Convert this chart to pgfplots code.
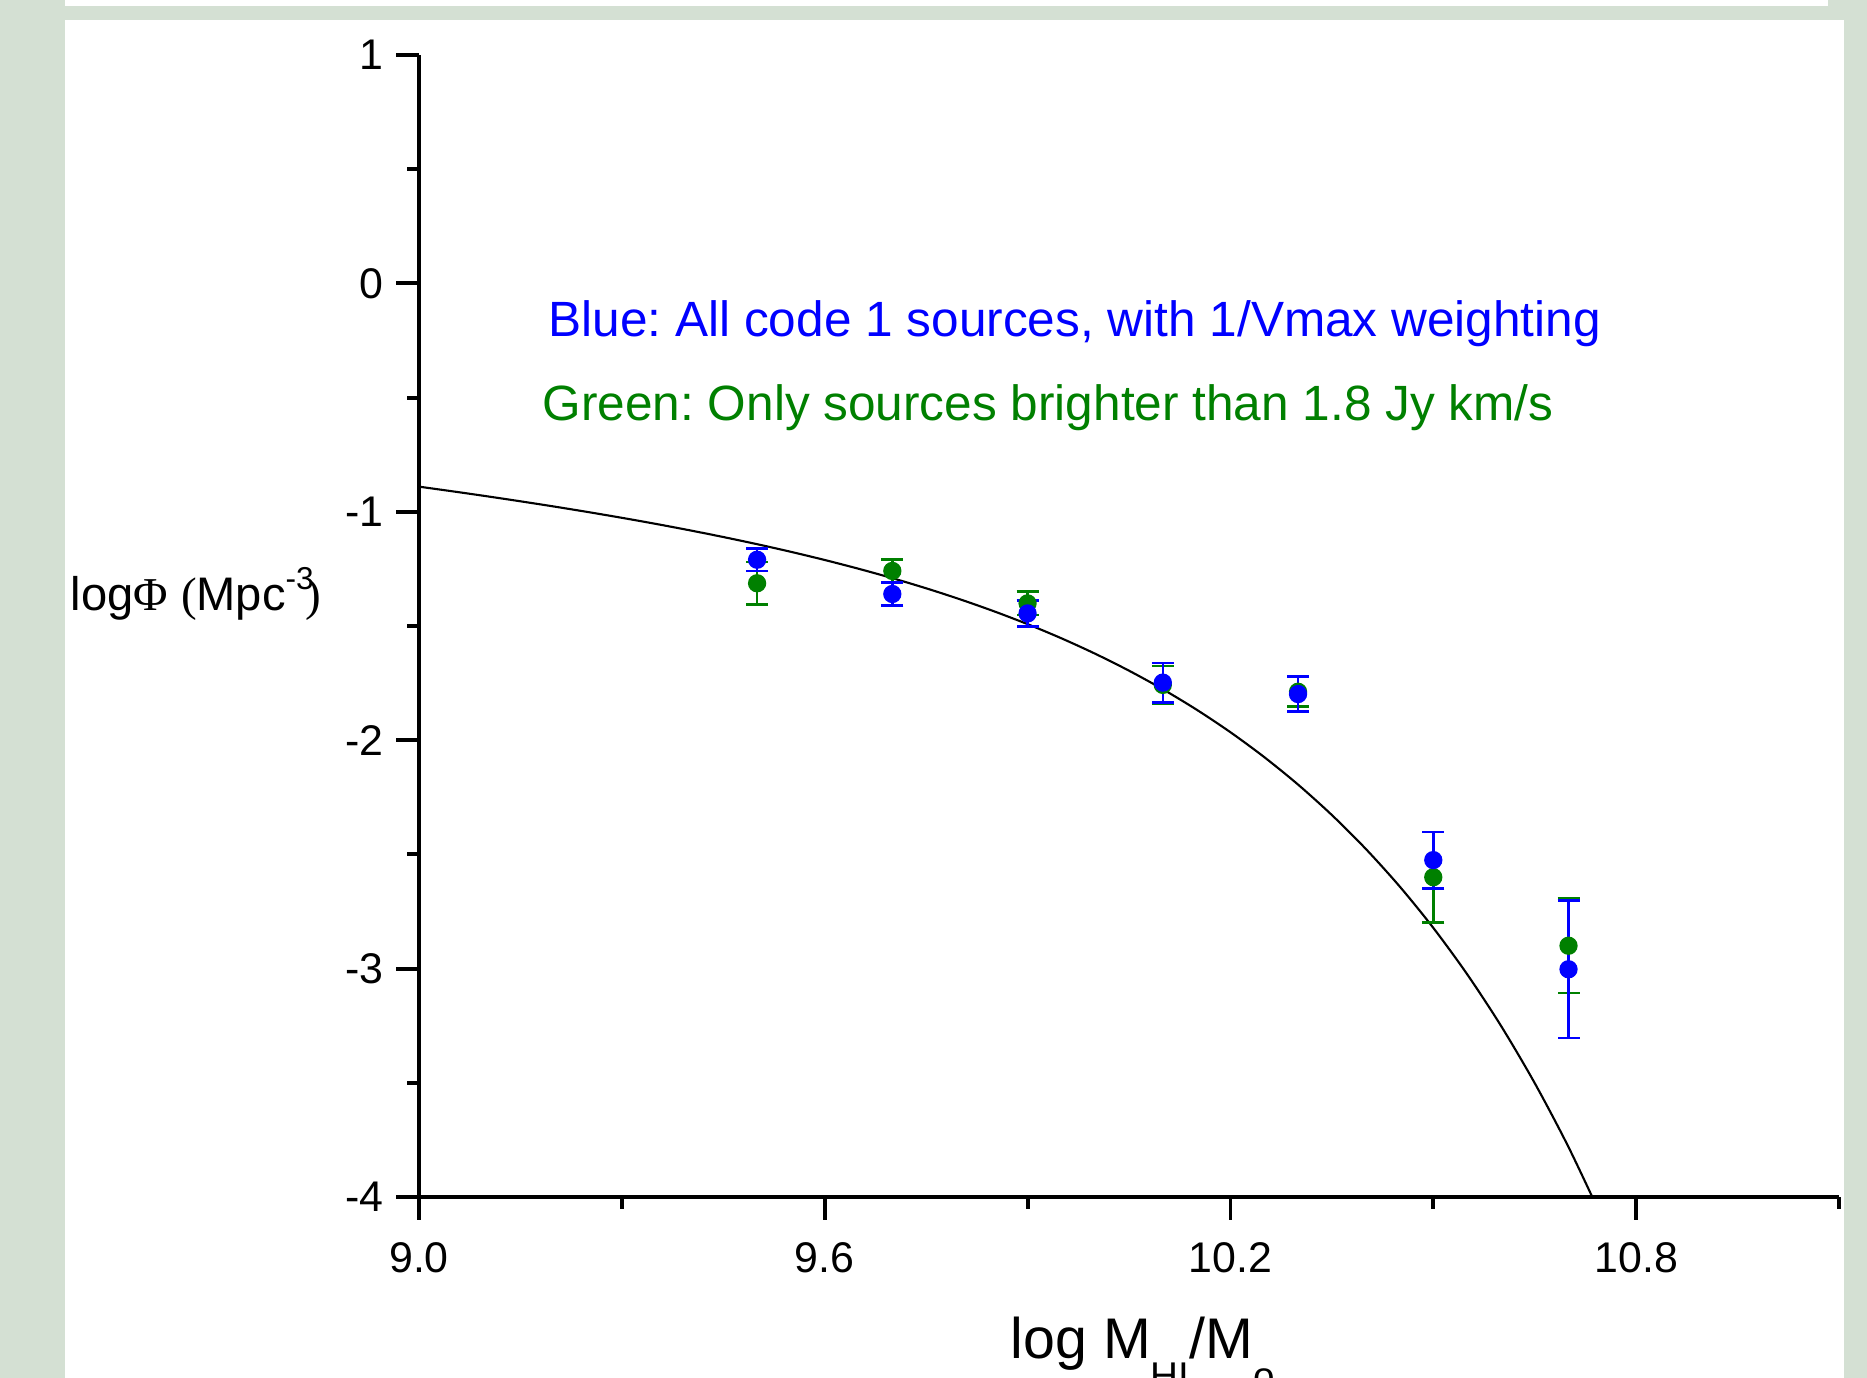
\documentclass[border=0pt]{standalone}
\usepackage{fontspec}
\setmainfont{Liberation Sans}
\newfontfamily\serif{Liberation Serif}
\usepackage{pgfplots}
\pgfplotsset{compat=1.18}
\definecolor{bgsage}{RGB}{212,224,211}
\definecolor{dblue}{RGB}{0,0,255}
\definecolor{dgreen}{RGB}{0,128,0}
\frenchspacing

\begin{document}
\begin{tikzpicture}
% page background and panels
\fill[bgsage] (0,0) rectangle (18.67,13.78);
\fill[white] (0.65,13.72) rectangle (18.28,13.78);
\fill[white] (0.65,0) rectangle (18.44,13.58);
\useasboundingbox (0,0) rectangle (18.67,13.78);

\begin{axis}[
    at={(4.19cm,1.81cm)}, anchor=south west,
    scale only axis, width=14.2cm, height=11.42cm,
    xmin=9, xmax=11.1, ymin=-4, ymax=1,
    axis x line=bottom, axis y line=left,
    axis line style={-, line width=1.1pt, black},
    xtick={9,9.6,10.2,10.8}, xticklabels={9.0,9.6,10.2,10.8},
    minor xtick={9.3,9.9,10.5,11.1},
    ytick={-4,-3,-2,-1,0,1}, yticklabels={-4,-3,-2,-1,0,1},
    minor ytick={-3.5,-2.5,-1.5,-0.5,0.5},
    tick align=outside,
    major tick length=0.23cm, minor tick length=0.12cm,
    every tick/.style={black, line width=1.1pt},
    tick label style={font=\fontsize{12.2}{14}\selectfont},
    xticklabel style={yshift=-0.1cm},
]

% fitted curve
\addplot[black, line width=0.6pt, smooth] coordinates {
(9.00,-0.8900) (9.05,-0.9106) (9.10,-0.9319) (9.15,-0.9541) (9.20,-0.9771)
(9.25,-1.0012) (9.30,-1.0264) (9.35,-1.0529) (9.40,-1.0809) (9.45,-1.1105)
(9.50,-1.1419) (9.55,-1.1753) (9.60,-1.2111) (9.65,-1.2494) (9.70,-1.2906)
(9.75,-1.3350) (9.80,-1.3831) (9.85,-1.4353) (9.90,-1.4920) (9.95,-1.5539)
(10.00,-1.6216) (10.05,-1.6957) (10.10,-1.7770) (10.15,-1.8665) (10.20,-1.9652)
(10.25,-2.0741) (10.30,-2.1944) (10.35,-2.3277) (10.40,-2.4755) (10.45,-2.6395)
(10.50,-2.8217) (10.55,-3.0244) (10.60,-3.2500) (10.65,-3.5014) (10.70,-3.7816)
(10.75,-4.0942)
};

% green: only sources brighter than 1.8 Jy km/s
\addplot[only marks, mark=*, mark size=2.4pt, color=dgreen,
    mark options={draw=dgreen, fill=dgreen},
    error bars/.cd, y dir=both, y explicit,
    error bar style={line width=0.7pt, dgreen},
    error mark options={rotate=90, line width=0.7pt, mark size=0.11cm, dgreen}]
coordinates {
(9.5,-1.313) +- (0,0.093)
(9.7,-1.259) +- (0,0.050)
(9.9,-1.401) +- (0,0.052)
(10.1,-1.758) +- (0,0.082)
(10.3,-1.788) +- (0,0.065)
(10.5,-2.600) +- (0,0.199)
(10.7,-2.900) +- (0,0.208)
};

% blue: all code 1 sources, 1/Vmax weighting
\addplot[only marks, mark=*, mark size=2.4pt, color=dblue,
    mark options={draw=dblue, fill=dblue},
    error bars/.cd, y dir=both, y explicit,
    error bar style={line width=0.7pt, dblue},
    error mark options={rotate=90, line width=0.7pt, mark size=0.11cm, dblue}]
coordinates {
(9.5,-1.210) +- (0,0.050)
(9.7,-1.360) +- (0,0.050)
(9.9,-1.445) +- (0,0.057)
(10.1,-1.748) +- (0,0.087)
(10.3,-1.798) +- (0,0.076)
(10.5,-2.525) +- (0,0.124)
(10.7,-3.003) +- (0,0.302)
};
\end{axis}

\node[anchor=base west, inner sep=0, text=dblue, font=\fontsize{14.1}{17}\selectfont]
  at (5.48,10.41) {Blue: All code 1 sources, with 1/Vmax weighting};
\node[anchor=base west, inner sep=0, text=dgreen, font=\fontsize{14.1}{17}\selectfont]
  at (5.42,9.57) {Green: Only sources brighter than 1.8 Jy km/s};

\node[anchor=base west, inner sep=0, font=\fontsize{13.4}{16}\selectfont]
  at (0.70,7.67) {log{\serif Φ} {\serif(}Mpc\raisebox{6pt}{\fontsize{9}{10}\selectfont -3}\kern-2.3pt{\serif)}};

\node[anchor=base west, inner sep=0, font=\fontsize{16.3}{19}\selectfont]
  at (10.10,0.19) {log M\raisebox{-8.8pt}{\fontsize{11}{12}\selectfont HI}/M\raisebox{-8.8pt}{\fontsize{11}{12}\selectfont o}};
\end{tikzpicture}
\end{document}
